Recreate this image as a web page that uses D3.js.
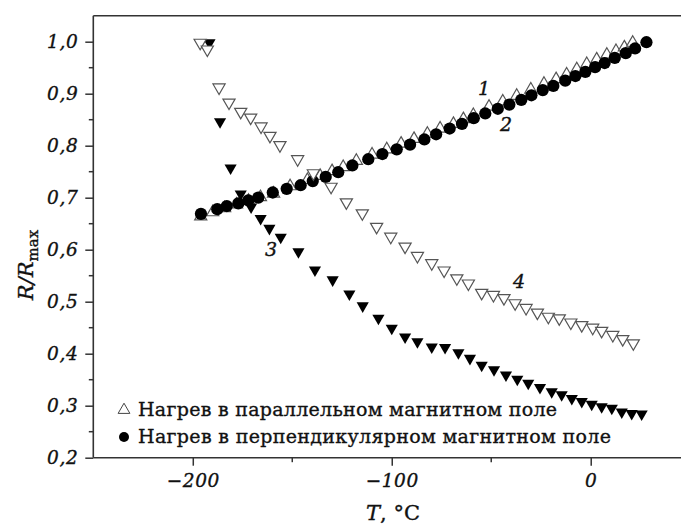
<!DOCTYPE html>
<html>
<head>
<meta charset="utf-8">
<script src="https://cdn.jsdelivr.net/npm/d3@7/dist/d3.min.js"></script>
<style>
body { margin: 0; background: #fff; }
text { font-family: "DejaVu Serif", serif; fill: #111; stroke: #111; stroke-width: 0.35px; }
</style>
</head>
<body>
<script>
// curve 1: heating in parallel field (open up triangles)
var t1 = [-196, -190, -184, -178, -172, -166, -159.4, -151.1, -142.4, -136, -130, -124.4, -117.8, -109.9, -102.5, -95.3, -88.8, -82.1, -75.7, -69, -64, -59, -51.1, -44.2, -37.2, -30.1, -23.5, -17.4, -12.1, -7, -2, 3, 8.1, 12.7, 16.9, 21.1];
var r1 = [0.664, 0.672, 0.680, 0.687, 0.694, 0.701, 0.708, 0.722, 0.734, 0.742, 0.751, 0.759, 0.771, 0.783, 0.793, 0.804, 0.813, 0.823, 0.833, 0.842, 0.851, 0.859, 0.875, 0.885, 0.896, 0.908, 0.919, 0.928, 0.937, 0.947, 0.957, 0.966, 0.975, 0.982, 0.989, 0.998];
// curve 2: heating in perpendicular field (filled circles)
var t2 = [-195.9, -187.7, -182.9, -177.1, -172.1, -167.1, -159.8, -152.8, -145.8, -139.7, -133.2, -126.9, -119.8, -111.8, -104.7, -97.5, -90.8, -83.6, -77.7, -70.9, -64.7, -58.8, -53.0, -46.7, -40.9, -34.9, -29.8, -24.1, -18.8, -12.8, -7.7, -2.7, 2.2, 7.0, 12.1, 17.6, 22.3, 28.0];
var r2 = [0.669, 0.678, 0.684, 0.689, 0.695, 0.700, 0.710, 0.717, 0.724, 0.732, 0.740, 0.749, 0.762, 0.774, 0.784, 0.793, 0.802, 0.812, 0.822, 0.833, 0.842, 0.853, 0.862, 0.871, 0.879, 0.888, 0.897, 0.907, 0.915, 0.925, 0.934, 0.942, 0.951, 0.959, 0.969, 0.978, 0.987, 0.999];
// curve 3: filled down triangles
var t3 = [-191.6, -186.3, -181, -175.9, -170.7, -165.9, -161.5, -155.8, -146.9, -138.6, -129.7, -121.3, -114.6, -106.7, -100.0, -93.3, -87.1, -79.9, -73.2, -66.5, -60.7, -54.8, -48.6, -42.6, -36.9, -31.4, -25.5, -19.6, -14.6, -9.5, -4.5, 0.5, 5.5, 10.6, 15.6, 20.6, 25.6];
var r3 = [0.998, 0.846, 0.757, 0.707, 0.682, 0.660, 0.641, 0.624, 0.596, 0.561, 0.542, 0.515, 0.492, 0.468, 0.449, 0.432, 0.423, 0.413, 0.412, 0.402, 0.391, 0.378, 0.369, 0.359, 0.351, 0.343, 0.335, 0.327, 0.321, 0.314, 0.308, 0.303, 0.298, 0.295, 0.288, 0.285, 0.284];
// curve 4: open down triangles
var t4 = [-196.3, -192.7, -186.8, -181.8, -175.9, -170.9, -165.7, -161.2, -156.2, -147.3, -139.4, -130.5, -122.8, -114.8, -107.6, -100.5, -93.3, -87.1, -79.9, -73.7, -67.3, -61.5, -54.8, -48.9, -43.6, -38.0, -32.5, -26.8, -21.3, -15.8, -10.0, -4.5, 1.0, 5.5, 11.1, 16.1, 21.4];
var r4 = [0.998, 0.985, 0.912, 0.883, 0.865, 0.854, 0.837, 0.819, 0.801, 0.774, 0.747, 0.721, 0.691, 0.670, 0.644, 0.625, 0.606, 0.588, 0.574, 0.560, 0.545, 0.535, 0.517, 0.513, 0.507, 0.497, 0.488, 0.479, 0.471, 0.468, 0.460, 0.455, 0.450, 0.444, 0.436, 0.428, 0.420];

var xTicks = [-200, -100, 0];
var xMinor = [-150, -50];
var yTicks = [0.2, 0.3, 0.4, 0.5, 0.6, 0.7, 0.8, 0.9, 1.0];
var yMinor = [0.25, 0.35, 0.45, 0.55, 0.65, 0.75, 0.85, 0.95];
var curveLabels = ["1", "2", "3", "4"];
var curveLabelT = [-53.6, -42.6, -160.7, -36];
var curveLabelR = [0.898, 0.828, 0.588, 0.526];
var legendText = ["Нагрев в параллельном магнитном поле", "Нагрев в перпендикулярном магнитном поле"];

window.onload = function(){
    var svg = d3.select('body').append('svg')
        .attr('width', 681)
        .attr('height', 525);

    var x = d3.scaleLinear().domain([-250, 50]).range([93.3, 690.2]);
    var y = d3.scaleLinear().domain([0.2, 1.05]).range([457.7, 15.7]);
    var axisColor = '#333';

    // frame: left and top lines (right side is cut off by the picture)
    svg.append('line').attr('x1', x(-250)).attr('x2', x(-250)).attr('y1', y(1.05)).attr('y2', y(0.2))
        .style('stroke', axisColor).style('stroke-width', 1.6);
    svg.append('line').attr('x1', x(-250)).attr('x2', x(50)).attr('y1', y(1.05)).attr('y2', y(1.05))
        .style('stroke', axisColor).style('stroke-width', 1.6);

    // bottom axis
    var fmtX = function(d){ return d < 0 ? '\u2212' + Math.abs(d) : '' + d; };
    var xAxis = svg.append('g').attr('transform', 'translate(0,' + y(0.2) + ')')
        .call(d3.axisBottom(x).tickValues(xTicks).tickSize(8).tickPadding(8).tickFormat(fmtX));
    xAxis.append('g').selectAll('line').data(xMinor).enter().append('line')
        .attr('x1', x).attr('x2', x).attr('y1', 0).attr('y2', 4.5);
    xAxis.select('.domain').attr('d', 'M' + x(-250) + ',0H' + x(50));

    // left axis
    var fmtY = function(d){ return d3.format('.1f')(d).replace('.', ','); };
    var yAxis = svg.append('g').attr('transform', 'translate(' + x(-250) + ',0)')
        .call(d3.axisLeft(y).tickValues(yTicks).tickSize(8).tickPadding(7).tickFormat(fmtY));
    yAxis.append('g').selectAll('line').data(yMinor).enter().append('line')
        .attr('y1', y).attr('y2', y).attr('x1', 0).attr('x2', -4.5);
    yAxis.select('.domain').remove();

    svg.selectAll('.tick line').style('stroke', axisColor).style('stroke-width', 1.5);
    xAxis.selectAll('g > line').style('stroke', axisColor).style('stroke-width', 1.5);
    yAxis.selectAll('g > line').style('stroke', axisColor).style('stroke-width', 1.5);
    xAxis.select('.domain').style('stroke', axisColor).style('stroke-width', 1.6);
    svg.selectAll('.tick text')
        .style('font-family', '"DejaVu Serif", serif')
        .style('font-style', 'italic')
        .style('font-size', '18.5px')
        .style('letter-spacing', '0.6px')
        .style('fill', '#111');

    var tri = d3.symbol().type(d3.symbolTriangle).size(64);
    var dot = d3.symbol().type(d3.symbolCircle).size(118);

    // curve 1
    svg.append('g').selectAll('path').data(t1).enter().append('path')
        .attr('d', tri)
        .attr('transform', function(d, i){ return 'translate(' + x(d) + ',' + y(r1[i]) + ')'; })
        .style('fill', '#fff').style('stroke', '#555').style('stroke-width', 1.2);
    // curve 3
    svg.append('g').selectAll('path').data(t3).enter().append('path')
        .attr('d', tri)
        .attr('transform', function(d, i){ return 'translate(' + x(d) + ',' + y(r3[i]) + ') rotate(180)'; })
        .style('fill', '#000');
    // curve 2
    svg.append('g').selectAll('path').data(t2).enter().append('path')
        .attr('d', dot)
        .attr('transform', function(d, i){ return 'translate(' + x(d) + ',' + y(r2[i]) + ')'; })
        .style('fill', '#000');
    // curve 4
    svg.append('g').selectAll('path').data(t4).enter().append('path')
        .attr('d', tri)
        .attr('transform', function(d, i){ return 'translate(' + x(d) + ',' + y(r4[i]) + ') rotate(180)'; })
        .style('fill', '#fff').style('stroke', '#555').style('stroke-width', 1.2);

    // curve numbers
    svg.append('g').selectAll('text').data(curveLabels).enter().append('text')
        .attr('x', function(d, i){ return x(curveLabelT[i]); })
        .attr('y', function(d, i){ return y(curveLabelR[i]); })
        .attr('text-anchor', 'middle')
        .style('font-style', 'italic')
        .style('font-size', '19px')
        .text(function(d){ return d; });

    // legend
    var legend = svg.append('g');
    legend.append('path').attr('d', d3.symbol().type(d3.symbolTriangle).size(60))
        .attr('transform', 'translate(124,410)')
        .style('fill', '#fff').style('stroke', '#444').style('stroke-width', 1);
    legend.append('circle').attr('cx', 124).attr('cy', 437).attr('r', 5).style('fill', '#000');
    legend.selectAll('text').data(legendText).enter().append('text')
        .attr('x', 138)
        .attr('y', function(d, i){ return 416 + i * 27; })
        .attr('textLength', function(d, i){ return i ? 473 : 419; })
        .attr('lengthAdjust', 'spacing')
        .style('font-size', '19px')
        .text(function(d){ return d; });

    // axis titles
    var xt = svg.append('text').attr('x', 393).attr('y', 520).attr('text-anchor', 'middle')
        .style('font-size', '21px');
    xt.append('tspan').style('font-style', 'italic').text('T');
    xt.append('tspan').text(', \u00B0C');

    var yt = svg.append('text').attr('transform', 'translate(33,265) rotate(-90)')
        .attr('text-anchor', 'middle').style('font-size', '21px');
    yt.append('tspan').style('font-style', 'italic').text('R/R');
    yt.append('tspan').attr('dy', 5).style('font-size', '15px').text('max');
};
</script>
</body>
</html>
